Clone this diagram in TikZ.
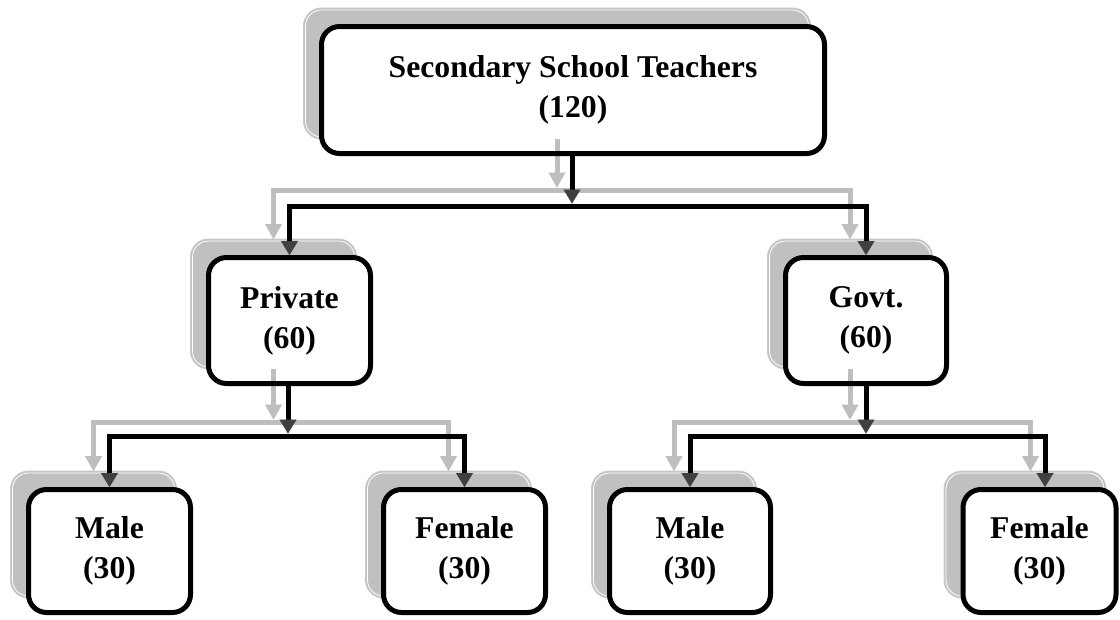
\documentclass[tikz,border=0pt]{standalone}
\usepackage{fontspec}
\setmainfont{Liberation Serif}
\usetikzlibrary{arrows.meta,calc}
\definecolor{shgray}{HTML}{C0C0C0}
\definecolor{shedge}{HTML}{CACACA}
\definecolor{lngray}{HTML}{BEBEBE}
\definecolor{headdark}{HTML}{404040}
\begin{document}
\begin{tikzpicture}[x=1pt,y=-1pt,
  shbox/.style={rounded corners=18pt, fill=shgray, draw=shedge, line width=1pt, inner sep=0pt, outer sep=0pt},
  wbox/.style={rounded corners=18pt, fill=white, inner sep=0pt, outer sep=0pt, align=center,
    font=\bfseries\fontsize{31.7}{40}\selectfont},
  boxborder/.style={rounded corners=18pt, draw=black, line width=5pt},
  blk/.style={draw=black, line width=5pt, shorten >=2.5pt,
    -{Triangle[width=17pt,length=14pt,line width=0.1pt,color=headdark]}},
  gry/.style={draw=lngray, line width=5pt, shorten >=2.5pt,
    -{Triangle[width=17pt,length=15pt,line width=0.1pt,color=lngray]}},
  gryend/.style={gry, shorten >=0pt},
  shline/.style={draw=white, line width=0.8pt, rounded corners=16pt}
]
\useasboundingbox (0,0) rectangle (1120,619);

% shadows
\node[shbox, minimum width=507pt, minimum height=131pt] (topS) at (557,73.5) {};
\node[shbox, minimum width=166pt, minimum height=130pt] (privS) at (273.5,304) {};
\node[shbox, minimum width=165pt, minimum height=130pt] (govtS) at (850,304) {};
\node[shbox, minimum width=166pt, minimum height=127pt] (mlS) at (93.5,534.5) {};
\node[shbox, minimum width=166pt, minimum height=127pt] (flS) at (448.5,534.5) {};
\node[shbox, minimum width=165pt, minimum height=127pt] (mrS) at (674,534.5) {};
\node[shbox, minimum width=162pt, minimum height=127pt] (frS) at (1025,534.5) {};
\foreach \n in {topS,privS,govtS,mlS,flS,mrS,frS}
  \draw[shline] ($(\n.south west)+(2,-2)$) rectangle ($(\n.north east)+(-2,2)$);

% white boxes with text
\node[wbox, minimum width=503pt, minimum height=127pt] (top) at (573,90) {Secondary School Teachers\\(120)};
\node[wbox, minimum width=162pt, minimum height=126pt] (priv) at (289.5,320.5) {Private\\(60)};
\node[wbox, minimum width=161pt, minimum height=126pt] (govt) at (866,320.5) {Govt.\\(60)};
\node[wbox, minimum width=162pt, minimum height=123pt] (ml) at (109.5,551) {Male\\(30)};
\node[wbox, minimum width=162pt, minimum height=123pt] (fl) at (464.5,551) {Female\\(30)};
\node[wbox, minimum width=161pt, minimum height=123pt] (mr) at (690,551) {Male\\(30)};
\node[wbox, minimum width=153pt, minimum height=123pt] (fr) at (1039.5,551) {Female\\(30)};

% junction coordinates
\path (topS.south) ++(0,51) coordinate (g1);
\path (privS.south) ++(0,53) coordinate (g2);
\path (govtS.south) ++(0,53) coordinate (g3);
\path (top.south) ++(-1,52.5) coordinate (b1);
\path (priv.south) ++(-1.5,52.5) coordinate (b2);
\path (govt.south) ++(0,52.5) coordinate (b3);
\coordinate (frin) at ([xshift=5.5pt]fr.north);
\coordinate (frinS) at ([xshift=5.5pt]frS.north);

% gray connectors
\draw[gry] (topS.south -| g1) -- (g1);
\draw[gryend] (g1) -| (privS.north);
\draw[gryend] (g1) -| (govtS.north);
\draw[gry] (privS.south -| g2) -- (g2);
\draw[gryend] (g2) -| (mlS.north);
\draw[gryend] (g2) -| (flS.north);
\draw[gry] (govtS.south) -- (g3);
\draw[gryend] (g3) -| (mrS.north);
\draw[gryend] (g3) -| (frinS);

% box borders
\foreach \n in {top,priv,govt,ml,fl,mr,fr}
  \draw[boxborder] (\n.south west) rectangle (\n.north east);

% black connectors
\draw[blk] (top.south -| b1) -- (b1);
\draw[blk] (b1) -| (priv.north);
\draw[blk] (b1) -| (govt.north);
\draw[blk] (priv.south -| b2) -- (b2);
\draw[blk] (b2) -| (ml.north);
\draw[blk] (b2) -| (fl.north);
\draw[blk] (govt.south) -- (b3);
\draw[blk] (b3) -| (mr.north);
\draw[blk] (b3) -| (frin);
\end{tikzpicture}
\end{document}
